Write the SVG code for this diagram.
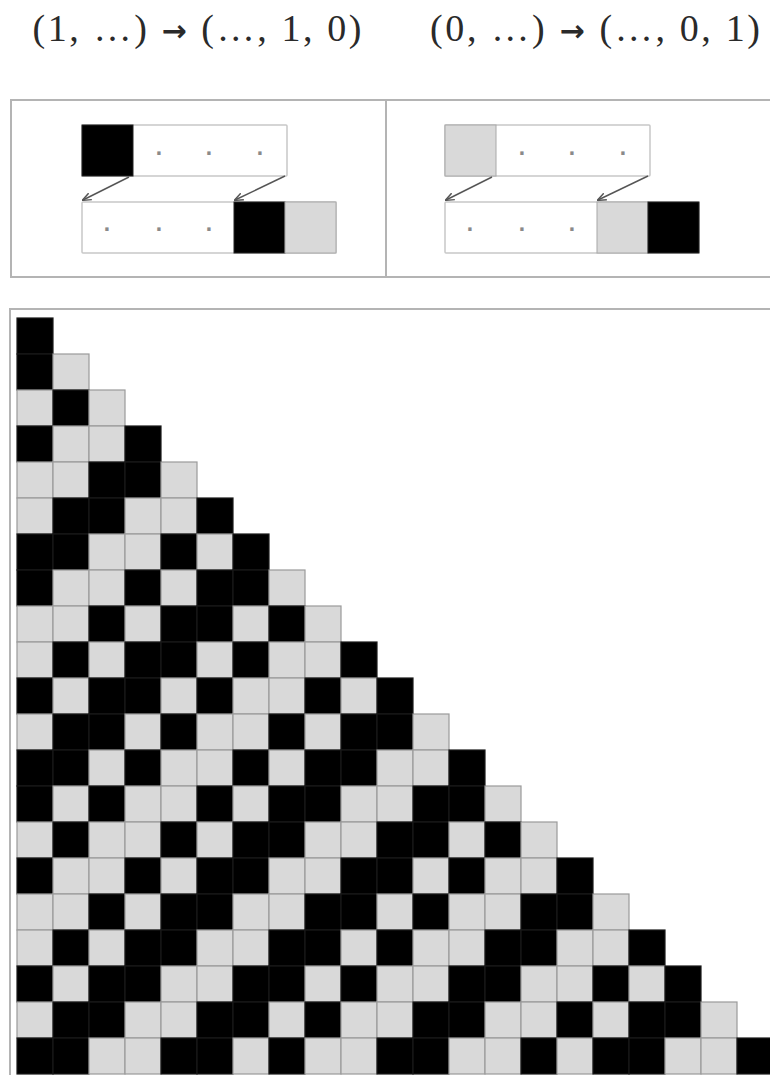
<svg xmlns="http://www.w3.org/2000/svg" xmlns:xlink="http://www.w3.org/1999/xlink" width="770" height="1075" viewBox="0 0 770 1075">
<style>
.hdr{font-family:"Liberation Serif","Times New Roman",serif;font-size:38px;fill:#2a2a2a;text-anchor:middle}
.ar{font-family:"DejaVu Sans",sans-serif;font-weight:bold;font-size:30px}
.dot{font-family:"Liberation Sans",Arial,sans-serif;font-size:34px;fill:#8a8a8a;text-anchor:middle}
.frame{fill:none;stroke:#b4b4b4;stroke-width:2}
.strip{fill:#fff;stroke:#c8c8c8;stroke-width:1.5}
.kb{fill:#000;stroke:#222;stroke-width:1}
.kg{fill:#d9d9d9;stroke:#a8a8a8;stroke-width:1}
.arr{fill:none;stroke:#555;stroke-width:1.4;marker-end:url(#ah)}
</style>
<defs>
<marker id="ah" viewBox="0 0 10 10" refX="9" refY="5" markerWidth="9" markerHeight="9" orient="auto" markerUnits="userSpaceOnUse">
<path d="M0,1 L10,5 L0,9" fill="none" stroke="#555" stroke-width="1.6"/>
</marker>
<rect id="b" width="36" height="36" fill="#000" stroke="#1a1a1a" stroke-width="1.2"/>
<rect id="g" width="36" height="36" fill="#d9d9d9" stroke="#9a9a9a" stroke-width="1.2"/>
</defs>
<g id="headers">
<text class="hdr" x="197" y="41" textLength="329" lengthAdjust="spacing">(1, …) <tspan class="ar">→</tspan> (…, 1, 0)</text>
<text class="hdr" x="595" y="41" textLength="330" lengthAdjust="spacing">(0, …) <tspan class="ar">→</tspan> (…, 0, 1)</text>
</g>
<g id="rule-panel">
<rect class="frame" x="11" y="100" width="770" height="177"/>
<line x1="386" y1="100" x2="386" y2="277" stroke="#b4b4b4" stroke-width="2"/>
</g>
<g id="rule1">
<rect class="strip" x="82" y="125" width="205" height="51" rx="1"/>
<rect class="kb" x="82" y="125" width="51" height="51"/>
<text class="dot" x="159" y="162">·</text>
<text class="dot" x="209" y="162">·</text>
<text class="dot" x="260" y="162">·</text>
<rect class="strip" x="82" y="202" width="254" height="51" rx="1"/>
<text class="dot" x="107" y="238">·</text>
<text class="dot" x="159" y="238">·</text>
<text class="dot" x="209" y="238">·</text>
<rect class="kb" x="234" y="202" width="51" height="51"/>
<rect class="kg" x="285" y="202" width="51" height="51"/>
</g>
<g id="rule2">
<rect class="strip" x="445" y="125" width="205" height="51" rx="1"/>
<rect class="kg" x="445" y="125" width="51" height="51"/>
<text class="dot" x="522" y="162">·</text>
<text class="dot" x="572" y="162">·</text>
<text class="dot" x="623" y="162">·</text>
<rect class="strip" x="445" y="202" width="254" height="51" rx="1"/>
<text class="dot" x="470" y="238">·</text>
<text class="dot" x="522" y="238">·</text>
<text class="dot" x="572" y="238">·</text>
<rect class="kg" x="597" y="202" width="51" height="51"/>
<rect class="kb" x="648" y="202" width="51" height="51"/>
</g>
<g id="connectors">
<line class="arr" x1="129" y1="177" x2="83" y2="200"/>
<line class="arr" x1="285" y1="176" x2="235" y2="200"/>
<line class="arr" x1="492" y1="177" x2="446" y2="200"/>
<line class="arr" x1="648" y1="176" x2="598" y2="200"/>
</g>
<g id="evolution">
<rect class="frame" x="10" y="309" width="770" height="780"/>
<g transform="translate(0,318)"><use href="#b" x="17"/></g>
<g transform="translate(0,354)"><use href="#b" x="17"/><use href="#g" x="53"/></g>
<g transform="translate(0,390)"><use href="#g" x="17"/><use href="#b" x="53"/><use href="#g" x="89"/></g>
<g transform="translate(0,426)"><use href="#b" x="17"/><use href="#g" x="53"/><use href="#g" x="89"/><use href="#b" x="125"/></g>
<g transform="translate(0,462)"><use href="#g" x="17"/><use href="#g" x="53"/><use href="#b" x="89"/><use href="#b" x="125"/><use href="#g" x="161"/></g>
<g transform="translate(0,498)"><use href="#g" x="17"/><use href="#b" x="53"/><use href="#b" x="89"/><use href="#g" x="125"/><use href="#g" x="161"/><use href="#b" x="197"/></g>
<g transform="translate(0,534)"><use href="#b" x="17"/><use href="#b" x="53"/><use href="#g" x="89"/><use href="#g" x="125"/><use href="#b" x="161"/><use href="#g" x="197"/><use href="#b" x="233"/></g>
<g transform="translate(0,570)"><use href="#b" x="17"/><use href="#g" x="53"/><use href="#g" x="89"/><use href="#b" x="125"/><use href="#g" x="161"/><use href="#b" x="197"/><use href="#b" x="233"/><use href="#g" x="269"/></g>
<g transform="translate(0,606)"><use href="#g" x="17"/><use href="#g" x="53"/><use href="#b" x="89"/><use href="#g" x="125"/><use href="#b" x="161"/><use href="#b" x="197"/><use href="#g" x="233"/><use href="#b" x="269"/><use href="#g" x="305"/></g>
<g transform="translate(0,642)"><use href="#g" x="17"/><use href="#b" x="53"/><use href="#g" x="89"/><use href="#b" x="125"/><use href="#b" x="161"/><use href="#g" x="197"/><use href="#b" x="233"/><use href="#g" x="269"/><use href="#g" x="305"/><use href="#b" x="341"/></g>
<g transform="translate(0,678)"><use href="#b" x="17"/><use href="#g" x="53"/><use href="#b" x="89"/><use href="#b" x="125"/><use href="#g" x="161"/><use href="#b" x="197"/><use href="#g" x="233"/><use href="#g" x="269"/><use href="#b" x="305"/><use href="#g" x="341"/><use href="#b" x="377"/></g>
<g transform="translate(0,714)"><use href="#g" x="17"/><use href="#b" x="53"/><use href="#b" x="89"/><use href="#g" x="125"/><use href="#b" x="161"/><use href="#g" x="197"/><use href="#g" x="233"/><use href="#b" x="269"/><use href="#g" x="305"/><use href="#b" x="341"/><use href="#b" x="377"/><use href="#g" x="413"/></g>
<g transform="translate(0,750)"><use href="#b" x="17"/><use href="#b" x="53"/><use href="#g" x="89"/><use href="#b" x="125"/><use href="#g" x="161"/><use href="#g" x="197"/><use href="#b" x="233"/><use href="#g" x="269"/><use href="#b" x="305"/><use href="#b" x="341"/><use href="#g" x="377"/><use href="#g" x="413"/><use href="#b" x="449"/></g>
<g transform="translate(0,786)"><use href="#b" x="17"/><use href="#g" x="53"/><use href="#b" x="89"/><use href="#g" x="125"/><use href="#g" x="161"/><use href="#b" x="197"/><use href="#g" x="233"/><use href="#b" x="269"/><use href="#b" x="305"/><use href="#g" x="341"/><use href="#g" x="377"/><use href="#b" x="413"/><use href="#b" x="449"/><use href="#g" x="485"/></g>
<g transform="translate(0,822)"><use href="#g" x="17"/><use href="#b" x="53"/><use href="#g" x="89"/><use href="#g" x="125"/><use href="#b" x="161"/><use href="#g" x="197"/><use href="#b" x="233"/><use href="#b" x="269"/><use href="#g" x="305"/><use href="#g" x="341"/><use href="#b" x="377"/><use href="#b" x="413"/><use href="#g" x="449"/><use href="#b" x="485"/><use href="#g" x="521"/></g>
<g transform="translate(0,858)"><use href="#b" x="17"/><use href="#g" x="53"/><use href="#g" x="89"/><use href="#b" x="125"/><use href="#g" x="161"/><use href="#b" x="197"/><use href="#b" x="233"/><use href="#g" x="269"/><use href="#g" x="305"/><use href="#b" x="341"/><use href="#b" x="377"/><use href="#g" x="413"/><use href="#b" x="449"/><use href="#g" x="485"/><use href="#g" x="521"/><use href="#b" x="557"/></g>
<g transform="translate(0,894)"><use href="#g" x="17"/><use href="#g" x="53"/><use href="#b" x="89"/><use href="#g" x="125"/><use href="#b" x="161"/><use href="#b" x="197"/><use href="#g" x="233"/><use href="#g" x="269"/><use href="#b" x="305"/><use href="#b" x="341"/><use href="#g" x="377"/><use href="#b" x="413"/><use href="#g" x="449"/><use href="#g" x="485"/><use href="#b" x="521"/><use href="#b" x="557"/><use href="#g" x="593"/></g>
<g transform="translate(0,930)"><use href="#g" x="17"/><use href="#b" x="53"/><use href="#g" x="89"/><use href="#b" x="125"/><use href="#b" x="161"/><use href="#g" x="197"/><use href="#g" x="233"/><use href="#b" x="269"/><use href="#b" x="305"/><use href="#g" x="341"/><use href="#b" x="377"/><use href="#g" x="413"/><use href="#g" x="449"/><use href="#b" x="485"/><use href="#b" x="521"/><use href="#g" x="557"/><use href="#g" x="593"/><use href="#b" x="629"/></g>
<g transform="translate(0,966)"><use href="#b" x="17"/><use href="#g" x="53"/><use href="#b" x="89"/><use href="#b" x="125"/><use href="#g" x="161"/><use href="#g" x="197"/><use href="#b" x="233"/><use href="#b" x="269"/><use href="#g" x="305"/><use href="#b" x="341"/><use href="#g" x="377"/><use href="#g" x="413"/><use href="#b" x="449"/><use href="#b" x="485"/><use href="#g" x="521"/><use href="#g" x="557"/><use href="#b" x="593"/><use href="#g" x="629"/><use href="#b" x="665"/></g>
<g transform="translate(0,1002)"><use href="#g" x="17"/><use href="#b" x="53"/><use href="#b" x="89"/><use href="#g" x="125"/><use href="#g" x="161"/><use href="#b" x="197"/><use href="#b" x="233"/><use href="#g" x="269"/><use href="#b" x="305"/><use href="#g" x="341"/><use href="#g" x="377"/><use href="#b" x="413"/><use href="#b" x="449"/><use href="#g" x="485"/><use href="#g" x="521"/><use href="#b" x="557"/><use href="#g" x="593"/><use href="#b" x="629"/><use href="#b" x="665"/><use href="#g" x="701"/></g>
<g transform="translate(0,1038)"><use href="#b" x="17"/><use href="#b" x="53"/><use href="#g" x="89"/><use href="#g" x="125"/><use href="#b" x="161"/><use href="#b" x="197"/><use href="#g" x="233"/><use href="#b" x="269"/><use href="#g" x="305"/><use href="#g" x="341"/><use href="#b" x="377"/><use href="#b" x="413"/><use href="#g" x="449"/><use href="#g" x="485"/><use href="#b" x="521"/><use href="#g" x="557"/><use href="#b" x="593"/><use href="#b" x="629"/><use href="#g" x="665"/><use href="#g" x="701"/><use href="#b" x="737"/></g>
</g>
</svg>
